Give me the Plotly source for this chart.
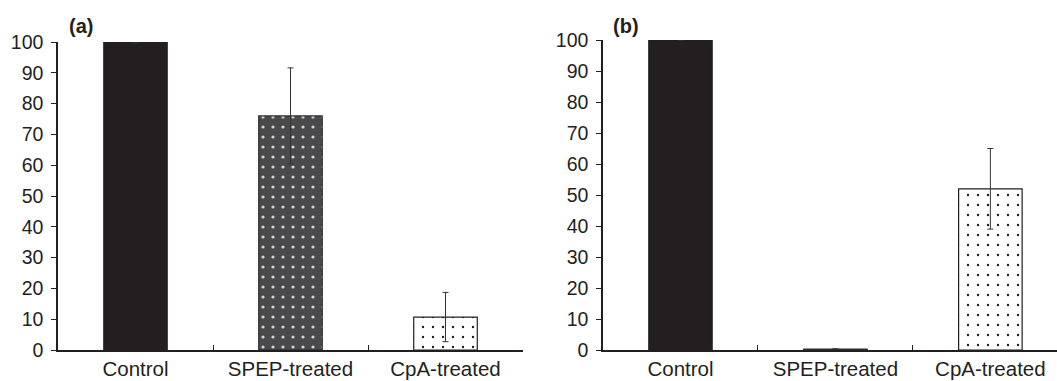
import plotly.graph_objects as go

categories = ["Control", "SPEP-treated", "CpA-treated"]
values_a = [100, 76, 10.7]
errors_a = [0.3, 15.6, 8.0]
values_b = [100, 0.3, 52]
errors_b = [0.2, 0.1, 13.0]
y_ticks = [0, 10, 20, 30, 40, 50, 60, 70, 80, 90, 100]
panel_labels = ["(a)", "(b)"]

W, H = 1057, 381
INK = "#231f20"
FONT = "Liberation Sans, Arial, sans-serif"

fills = [
    dict(color=INK, line=dict(color=INK, width=1)),
    dict(color="#4a4a4c", line=dict(color="#2e2e2e", width=1.2),
         pattern=dict(shape=".", bgcolor="#4a4a4c", fgcolor="#d4d4d4",
                      size=10, solidity=0.08, fillmode="replace")),
    dict(color="white", line=dict(color=INK, width=1.2),
         pattern=dict(shape=".", bgcolor="white", fgcolor=INK,
                      size=10, solidity=0.045, fillmode="replace")),
]

fig = go.Figure()

for panel, (vals, errs) in enumerate([(values_a, errors_a), (values_b, errors_b)]):
    xa = "x" if panel == 0 else "x2"
    ya = "y" if panel == 0 else "y2"
    for i, cat in enumerate(categories):
        fig.add_trace(go.Bar(
            x=[cat], y=[vals[i]], xaxis=xa, yaxis=ya,
            width=0.41, marker=fills[i],
            error_y=dict(type="data", array=[errs[i]], visible=True,
                         color="#333333", thickness=1, width=3),
            showlegend=False, cliponaxis=False,
        ))

xcommon = dict(type="category", categoryorder="array", categoryarray=categories,
               showline=True, linecolor=INK, linewidth=1.5, showgrid=False,
               ticks="inside", tickson="boundaries", ticklen=5, tickwidth=1.2,
               tickcolor=INK, zeroline=False,
               tickfont=dict(family=FONT, size=20.5, color=INK))
ycommon = dict(range=[0, 100], tickmode="array", tickvals=y_ticks,
               ticktext=[str(v) for v in y_ticks],
               showline=True, linecolor=INK, linewidth=1.5, showgrid=False,
               ticks="outside", ticklen=5, tickwidth=1.2, tickcolor=INK,
               zeroline=False, ticklabelstandoff=4,
               tickfont=dict(family=FONT, size=19.5, color=INK))

top_margin = 40
bottom_margin = 31
plot_h = H - top_margin - bottom_margin

fig.update_layout(
    width=W, height=H,
    margin=dict(l=0, r=0, t=top_margin, b=bottom_margin),
    paper_bgcolor="white", plot_bgcolor="white",
    xaxis=dict(**xcommon, domain=[58 / W, 523 / W], range=[-0.5, 2.5], anchor="y"),
    yaxis=dict(**ycommon, domain=[0, 1 - 2 / plot_h], anchor="x"),
    xaxis2=dict(**xcommon, domain=[603 / W, 1.0], range=[-0.5, 2.43], anchor="y2"),
    yaxis2=dict(**ycommon, domain=[0, 1], anchor="x2"),
)

for lbl, xpx in zip(panel_labels, [81, 626]):
    ypaper = (H - bottom_margin - 26) / plot_h
    fig.add_annotation(text="<b>%s</b>" % lbl, xref="paper", yref="paper",
                       x=xpx / W, y=ypaper, xanchor="center", yanchor="middle",
                       showarrow=False, font=dict(family=FONT, size=20, color=INK))

fig.write_html("out.html", config={"displayModeBar": False},
               post_script="document.body.style.margin='0px';document.body.style.overflow='hidden';")
